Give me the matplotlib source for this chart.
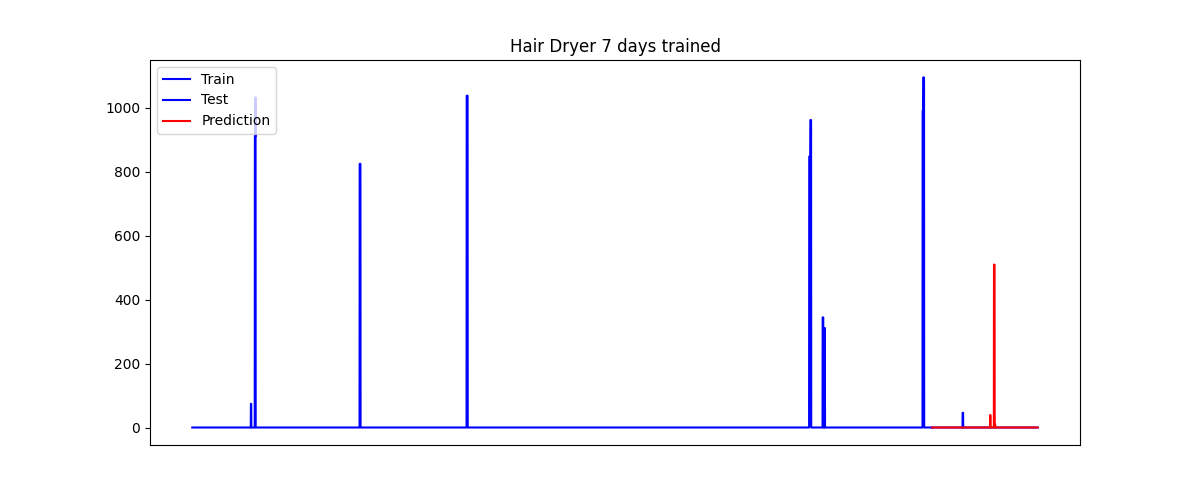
import numpy as np
import matplotlib
matplotlib.use("Agg")
import matplotlib.pyplot as plt

# minute-resolution series: 7 days train, 1 day test
TRAIN_MINUTES = 7 * 1440
TEST_MINUTES = 1440

# usage events (start minute, length in minutes, watts)
train_start = [798, 852, 860, 2280, 3738, 8405, 8420, 8588, 8612, 9950, 9957]
train_len = [6, 8, 3, 12, 14, 15, 12, 10, 8, 7, 14]
train_val = [75, 910, 1033, 825, 1038, 848, 962, 345, 312, 990, 1095]

test_start = [10495]
test_len = [8]
test_val = [47]

pred_start = [10870, 10922, 10935]
pred_len = [6, 10, 6]
pred_val = [40, 510, 10]

baseline = 1.0


def build_series(t0, n, starts, lens, vals):
    t = np.arange(t0, t0 + n)
    y = np.full(n, baseline)
    for s, d, v in zip(starts, lens, vals):
        y[s - t0:s - t0 + d] = v
    return t, y


t_train, y_train = build_series(0, TRAIN_MINUTES, train_start, train_len, train_val)
t_test, y_test = build_series(TRAIN_MINUTES, TEST_MINUTES, test_start, test_len, test_val)
t_pred, y_pred = build_series(TRAIN_MINUTES, TEST_MINUTES, pred_start, pred_len, pred_val)

fig, ax = plt.subplots(figsize=(12, 5), dpi=100)
ax.plot(t_train, y_train, color="blue", label="Train")
ax.plot(t_test, y_test, color="blue", label="Test")
ax.plot(t_pred, y_pred, color="red", label="Prediction")
ax.set_title("Hair Dryer 7 days trained")
ax.set_xticks([])
ax.legend(loc="upper left")

fig.savefig("out.png", dpi=100)
